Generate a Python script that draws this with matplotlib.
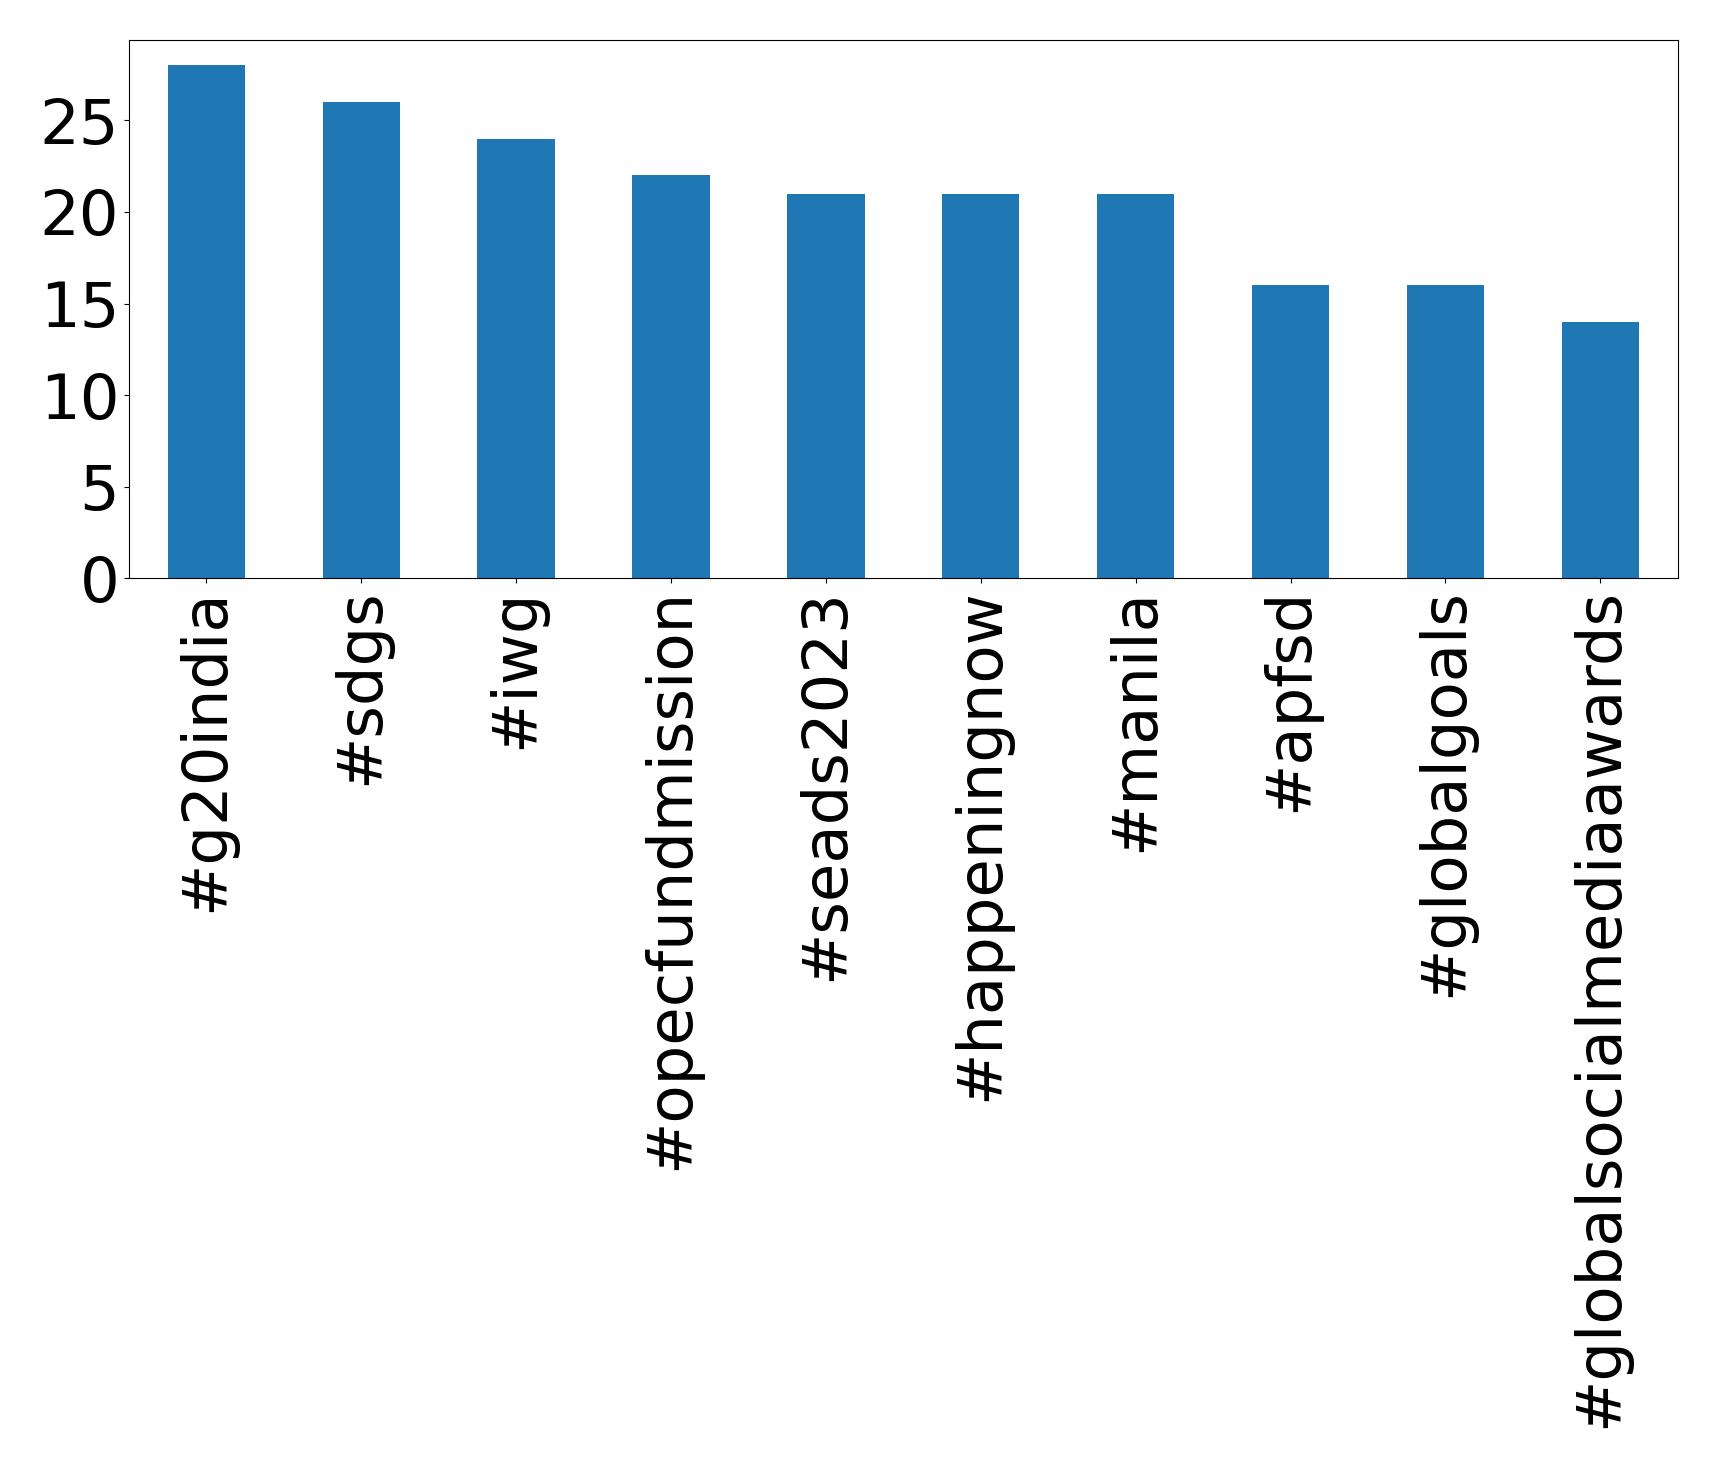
import matplotlib
matplotlib.use("Agg")
import matplotlib.pyplot as plt

hashtags = ['#g20india', '#sdgs', '#iwg', '#opecfundmission', '#seads2023',
            '#happeningnow', '#manila', '#apfsd', '#globalgoals',
            '#globalsocialmediaawards']
counts = [28, 26, 24, 22, 21, 21, 21, 16, 16, 14]
yticks = [0, 5, 10, 15, 20, 25]

fig = plt.figure(figsize=(17.19, 14.68), dpi=100)
ax = fig.add_axes([0.075, 0.606, 0.901, 0.367])
x = range(len(hashtags))
ax.bar(x, counts, width=0.5, color='#1f77b4')
ax.set_xlim(-0.5, len(hashtags) - 0.5)
ax.set_ylim(0, max(counts) * 1.05)
ax.set_yticks(yticks)
ax.set_xticks(list(x))
ax.set_xticklabels(hashtags, rotation=90, fontsize=45)
ax.tick_params(axis='y', labelsize=45)
fig.savefig('out.png', dpi=100)
